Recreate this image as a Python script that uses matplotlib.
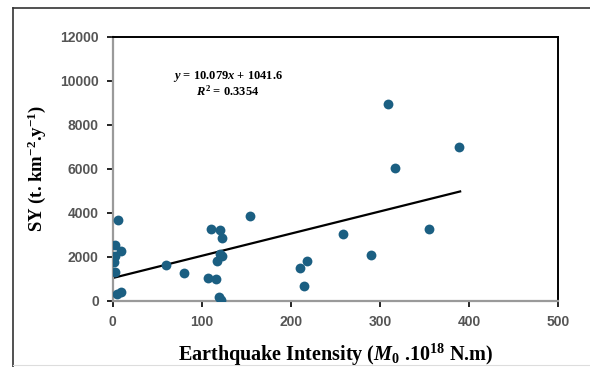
import numpy as np
import matplotlib
matplotlib.use('Agg')
import matplotlib.pyplot as plt
from matplotlib.lines import Line2D

# data
intensity = [6, 3, 9, 2.5, 1.5, 2.5, 5, 9.5, 60, 80,
             107, 116, 110.5, 121, 122.5, 120, 122.5, 117.5, 119.5, 121.5,
             154, 210.5, 218.5, 215, 258.5, 289.5, 308.5, 316.5, 355, 389]
sy = [3680, 2560, 2260, 2020, 1750, 1300, 300, 390, 1620, 1260,
      1060, 1010, 3280, 3240, 2860, 2140, 2030, 1810, 180, 60,
      3880, 1480, 1800, 670, 3020, 2070, 8950, 6050, 3280, 7000]
slope = 10.079
intercept = 1041.6
fit_x = [0, 390]
x_ticks = [0, 100, 200, 300, 400, 500]
y_ticks = [0, 2000, 4000, 6000, 8000, 10000, 12000]

plt.rcParams['mathtext.fontset'] = 'custom'
plt.rcParams['mathtext.rm'] = 'Liberation Serif:bold'
plt.rcParams['mathtext.it'] = 'Liberation Serif:bold:italic'
plt.rcParams['mathtext.bf'] = 'Liberation Serif:bold'

fig = plt.figure(figsize=(5.9, 3.67), dpi=100)
ax = fig.add_axes([0.191, 0.18, 0.755, 0.72])

ax.scatter(intensity, sy, s=50, color='#1b5f82', zorder=3, linewidths=0)
fx = np.array(fit_x, dtype=float)
ax.plot(fx, slope * fx + intercept, color='black', lw=1.6, zorder=2)

ax.set_xlim(0, 500)
ax.set_ylim(0, 12000)
ax.set_xticks(x_ticks)
ax.set_yticks(y_ticks)
ax.tick_params(direction='out', length=4, width=1.2, color='black',
               labelsize=10, labelcolor='#555555', pad=6)
for lbl in ax.get_xticklabels() + ax.get_yticklabels():
    lbl.set_family('Liberation Sans')
    lbl.set_fontweight('bold')

for side in ('left', 'bottom'):
    ax.spines[side].set_color('#9a9a9a')
    ax.spines[side].set_linewidth(1.6)
for side in ('top', 'right'):
    ax.spines[side].set_color('black')
    ax.spines[side].set_linewidth(1.4)

ax.set_xlabel(r'Earthquake Intensity ($M_{\mathit{0}}$ .10$^{18}$ N.m)',
              family='Liberation Serif', fontweight='bold', fontsize=14.5, labelpad=9)
ax.set_ylabel(r'SY (t. km$^{-2}$.y$^{-1}$)',
              family='Liberation Serif', fontweight='bold', fontsize=13.5, labelpad=9)

ax.text(129, 10215, r'$y$ = 10.079$x$ + 1041.6', ha='center', va='center',
        family='Liberation Serif', fontweight='bold', fontsize=9)
ax.text(129, 9500, r'$R^2$ = 0.3354', ha='center', va='center',
        family='Liberation Serif', fontweight='bold', fontsize=9)

# outer frame around the figure
fl, ft = 13 / 590, 1 - 7.5 / 367
fig.add_artist(Line2D([fl, fl], [ft, 0], transform=fig.transFigure, color='#333333', lw=1.2))
fig.add_artist(Line2D([fl, 1], [ft, ft], transform=fig.transFigure, color='#333333', lw=1.2))
fig.add_artist(Line2D([fl, 1], [2 / 367, 2 / 367], transform=fig.transFigure, color='#dddddd', lw=0.8))

fig.savefig('out.png', dpi=100)
